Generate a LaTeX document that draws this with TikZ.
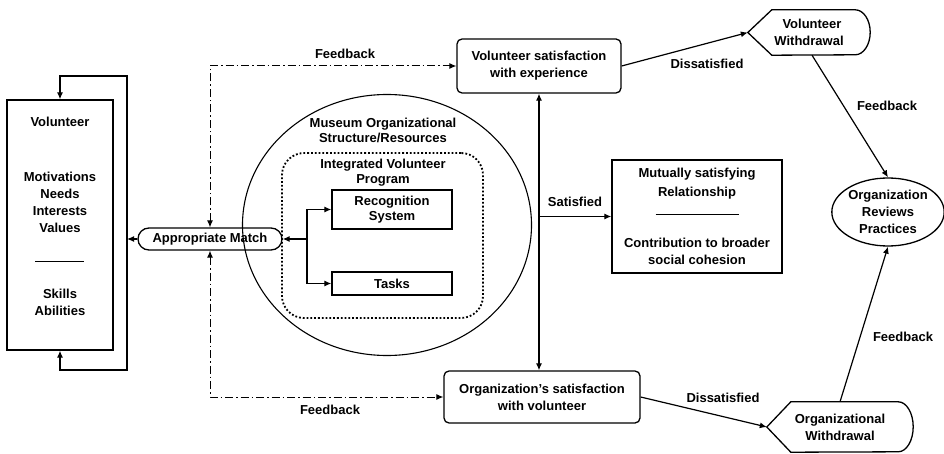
\documentclass[tikz,border=0pt]{standalone}
\usepackage{fontspec}
\setmainfont{Liberation Sans}
\usetikzlibrary{shapes.misc, shapes.geometric, arrows.meta, positioning, calc}
\tikzset{
  box/.style={
    rectangle, draw=black, line width=1.3pt, inner sep=2pt, align=center,
  },
  rbox/.style={box, rounded corners=5pt},
  txt/.style={align=center, inner sep=0pt},
  matchbox/.style={
    rounded rectangle, draw=black, line width=1.3pt,
    minimum width=146, minimum height=22, inner sep=1pt,
  },
  museum/.style={ellipse, draw=black, line width=1.1pt},
  program/.style={
    rectangle, draw=black, line width=1.8pt, dotted, rounded corners=22pt,
  },
  withdraw/.style={align=center, inner sep=0pt},
  outline/.style={line width=1.3pt, draw=black},
  arrow/.style={
    -{Latex[length=7pt, width=6pt]}, line width=1.2pt, draw=black,
  },
  twoway/.style={
    {Latex[length=7pt, width=6pt]}-{Latex[length=7pt, width=6pt]},
    line width=1.2pt, draw=black,
  },
  feedback/.style={
    twoway, line width=1pt, dash pattern={on 8pt off 3pt on 1.5pt off 3pt},
  },
  tlabel/.style={align=center, inner sep=0pt},
}

\begin{document}
\begin{tikzpicture}[x=1pt, y=-1pt,
  every node/.style={font=\bfseries\fontsize{13}{17}\selectfont}]

  \useasboundingbox (0,0) rectangle (944,454);

  % The volunteer and the loop back into the box
  \node[box, minimum width=106, minimum height=250] (vol) at (60,225) {};
  \node[txt] (volhead) at (60,122) {Volunteer};
  \node[txt, anchor=north] (volneeds) at (60,172)
    {Motivations\\Needs\\Interests\\Values\\[12pt]\rule{49pt}{0.8pt}\\[20pt]Skills\\Abilities};

  \coordinate (loopne) at (127,76);
  \coordinate (loopse) at (127,370);
  \coordinate (loopmid) at (127,239);
  \draw[twoway] (vol.north) |- (loopne) -- (loopse) -| (vol.south);

  % Matching volunteer to the program
  \node[matchbox] (match) at (210,239) {Appropriate Match};
  \draw[arrow] (match.west) -- (loopmid);

  % Museum structure with the integrated program inside
  \node[museum, minimum width=289, minimum height=261] (museum) at (387,225) {};
  \node[txt] (museumlbl) at (383,130) {Museum Organizational\\[-2pt]Structure/Resources};
  \node[program, minimum width=201, minimum height=165] (ivp) at (382.5,235.5) {};
  \node[txt] (ivplbl) at (383,173) {Integrated Volunteer\\[-2pt]Program};
  \node[box, minimum width=120, minimum height=39] (recog) at (392,209.5) {Recognition\\[-2pt]System};
  \node[box, minimum width=120, minimum height=23] (tasks) at (392,283.5) {Tasks};

  \coordinate (split) at (307,239);
  \draw[arrow] (split) -- (match.east);
  \draw[arrow] (split) |- (recog.west);
  \draw[arrow] (split) |- (tasks.west);

  % Satisfaction on both sides
  \node[rbox, minimum width=164, minimum height=54] (volsat) at (539,66)
    {Volunteer satisfaction\\with experience};
  \node[rbox, minimum width=196, minimum height=52] (orgsat) at (542,397)
    {Organization's satisfaction\\with volunteer};

  \draw[feedback] (match.north) |- (volsat.west);
  \draw[feedback] (match.south) |- (orgsat.west);
  \node[tlabel] (fbtop) at (345,54) {Feedback};
  \node[tlabel] (fbbot) at (330,410) {Feedback};

  \draw[twoway] (volsat.south) -- (volsat.south |- orgsat.north);

  \node[box, minimum width=170, minimum height=113] (mutual) at (697,216.5)
    {Mutually satisfying\\[2pt]Relationship\\[1pt]\rule{83pt}{0.8pt}\\[16pt]Contribution to broader\\social cohesion};
  \draw[arrow] (volsat.south |- mutual.west) -- (mutual.west);
  \node[tlabel] (satlbl) at (575,202) {Satisfied};

  % Withdrawal on either side
  \node[withdraw, minimum width=122, minimum height=45] (volwd) at (809,32.5)
    {\hspace*{6pt}Volunteer\\Withdrawal};
  \draw[outline] (volwd.west) -- ([xshift=24]volwd.north west)
    -- ([xshift=-15]volwd.north east)
    arc[start angle=90, end angle=-90, x radius=15pt, y radius=22.5pt]
    -- ([xshift=24]volwd.south west) -- cycle;

  \node[withdraw, minimum width=146, minimum height=50] (orgwd) at (840,427)
    {Organizational\\Withdrawal};
  \draw[outline] (orgwd.west) -- ([xshift=24]orgwd.north west)
    -- ([xshift=-15]orgwd.north east)
    arc[start angle=90, end angle=-90, x radius=15pt, y radius=25pt]
    -- ([xshift=24]orgwd.south west) -- cycle;

  \draw[arrow] (volsat.east) -- (volwd.west);
  \draw[arrow] (orgsat.east) -- (orgwd.west);
  \node[tlabel] (dislbltop) at (707,64) {Dissatisfied};
  \node[tlabel] (dislblbot) at (723,398) {Dissatisfied};

  % Review of practices
  \node[museum, line width=1.3pt, minimum width=106, minimum height=68, align=center, inner sep=0pt]
    (review) at (888,212) {Organization\\Reviews\\Practices};
  \draw[arrow] ([xshift=3]volwd.south) -- (review.north);
  \draw[arrow] (orgwd.north) -- (review.south);
  \node[tlabel] (fbvol) at (887,106) {Feedback};
  \node[tlabel] (fborg) at (903,337) {Feedback};

\end{tikzpicture}
\end{document}
